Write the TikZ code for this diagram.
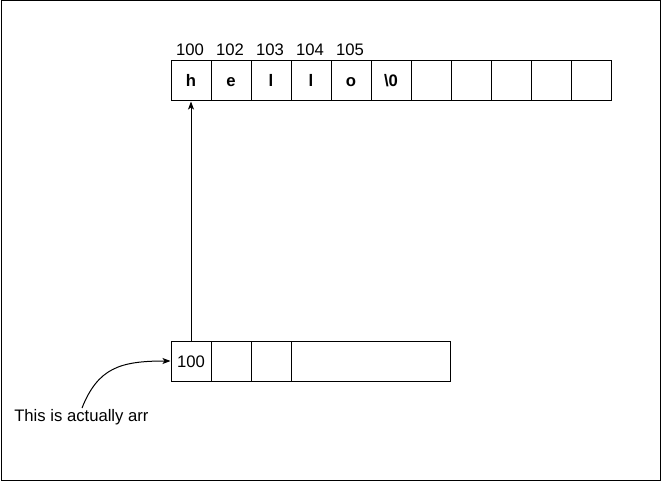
\documentclass[tikz,border=0pt]{standalone}
\usepackage{fontspec}
\setmainfont{Liberation Sans}
\usetikzlibrary{arrows.meta}

\begin{document}
\begin{tikzpicture}[x=0.75pt,y=-0.75pt,
	cell/.style={draw,line width=0.75pt,minimum width=30pt,minimum height=30pt,inner sep=0pt,text height=9pt,text depth=0pt,font=\fontsize{12.5}{14}\selectfont},
	addr/.style={font=\fontsize{12.5}{14}\selectfont,inner sep=0pt,text height=9pt,text depth=0pt},
	ptr/.style={line width=0.75pt,-{Stealth[length=6pt,width=4.5pt,inset=1.5pt]}}]
			\useasboundingbox (0,0) rectangle (661,481);
			\draw[line width=0.75pt] (1,1) rectangle (660,480);
			%
			\node[cell,font=\fontsize{12.5}{14}\selectfont\bfseries] (m0) at (191,81) {h};
			\node[cell,font=\fontsize{12.5}{14}\selectfont\bfseries] (m1) at (231,81) {e};
			\node[cell,font=\fontsize{12.5}{14}\selectfont\bfseries] (m2) at (271,81) {l};
			\node[cell,font=\fontsize{12.5}{14}\selectfont\bfseries] (m3) at (311,81) {l};
			\node[cell,font=\fontsize{12.5}{14}\selectfont\bfseries] (m4) at (351,81) {o};
			\node[cell,font=\fontsize{12.5}{14}\selectfont\bfseries] (m5) at (391,81) {\textbackslash 0};
			\foreach \i in {6,...,10}
				\node[cell] (m\i) at (191+40*\i,81) {};
			%
			\node[addr] (a0) at (190,50) {100};
			\node[addr] (a1) at (230,50) {102};
			\node[addr] (a2) at (270,50) {103};
			\node[addr] (a3) at (310,50) {104};
			\node[addr] (a4) at (350,50) {105};
			%
			\node[cell] (p0) at (191,361) {100};
			\node[cell] (p1) at (231,361) {};
			\node[cell] (p2) at (271,361) {};
			\node[cell,minimum width=119.25pt] (p3) at (370.5,361) {};
			%
			\node[addr,anchor=west] (note) at (14,415) {This is actually arr};
			\coordinate (n0) at (82,408);
			%
			\draw[ptr] (p0.north) -- (m0.south);
			\draw[ptr] (n0) .. controls (98,368) and (120,361) .. (p0.west);
			%
\end{tikzpicture}
\end{document}
